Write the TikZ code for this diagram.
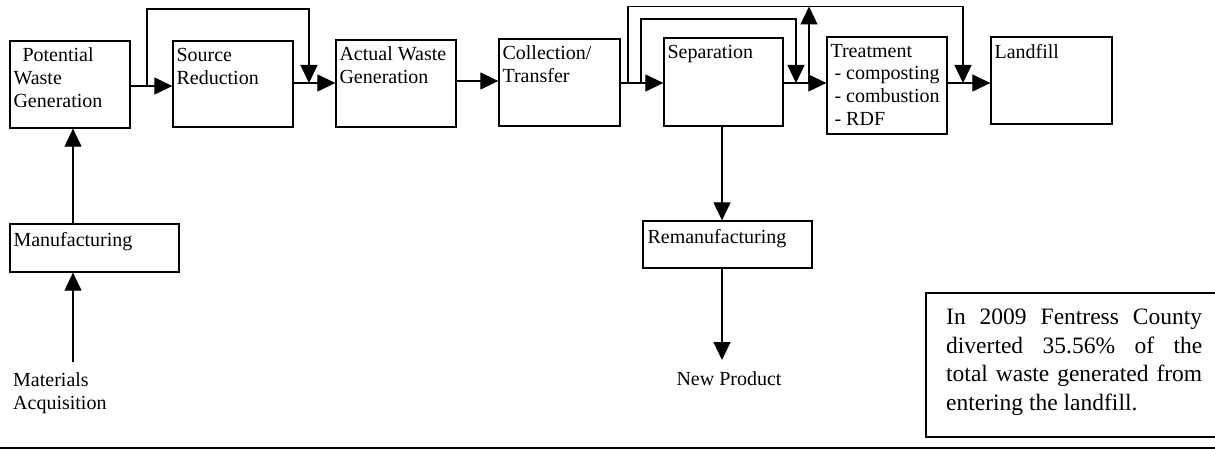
\documentclass[tikz,border=0pt]{standalone}
\usepackage{fontspec}
\setmainfont{Liberation Serif}
\usetikzlibrary{arrows.meta}
\begin{document}
\begin{tikzpicture}[x=1pt,y=-1pt,
  box/.style={draw,line width=1.3pt,inner sep=0pt},
  txt/.style={font=\fontsize{20}{23}\selectfont,align=left,inner xsep=4pt,inner ysep=7.5pt,anchor=north west},
  plain/.style={font=\fontsize{20}{23}\selectfont,align=left},
  arr/.style={line width=1.2pt,-{Triangle[length=18pt,width=17pt]}},
  notetxt/.style={font=\fontsize{23.5}{28.7}\selectfont,text width=256pt,align=justify,inner sep=0pt,anchor=north west}]
\useasboundingbox (0,0) rectangle (1215,449);
\clip (0,0) rectangle (1215,449);
\fill[white] (0,0) rectangle (1215,449);
% boxes
\node[box,minimum width=120pt,minimum height=87pt] (pwg) at (70,84.5) {};
\node[txt] (pwgT) at (pwg.north west) {\hspace*{9pt}Potential\\Waste\\Generation};
\node[box,minimum width=120pt,minimum height=86pt] (sr) at (233,84) {};
\node[txt] (srT) at (sr.north west) {Source\\Reduction};
\node[box,minimum width=120pt,minimum height=87pt] (awg) at (396,83.5) {};
\node[txt] (awgT) at (awg.north west) {Actual Waste\\Generation};
\node[box,minimum width=121pt,minimum height=87pt] (ct) at (559.5,82.5) {};
\node[txt] (ctT) at (ct.north west) {Collection/\\Transfer};
\node[box,minimum width=119pt,minimum height=88pt] (sep) at (723.5,82) {};
\node[txt] (sepT) at (sep.north west) {Separation};
\node[box,minimum width=120pt,minimum height=97pt] (treat) at (887,85.5) {};
\node[txt,font=\fontsize{20}{22.7}\selectfont] (treatT) at (treat.north west) {Treatment\\\hspace*{4pt}- composting\\\hspace*{4pt}- combustion\\\hspace*{4pt}- RDF};
\node[box,minimum width=121pt,minimum height=87pt] (land) at (1051.5,80.5) {};
\node[txt] (landT) at (land.north west) {Landfill};
\node[box,minimum width=169pt,minimum height=48pt] (manu) at (94.5,248) {};
\node[txt,inner ysep=9pt] (manuT) at (manu.north west) {Manufacturing};
\node[box,minimum width=169pt,minimum height=47pt] (reman) at (727.5,244.5) {};
\node[txt,inner xsep=5pt,inner ysep=8.5pt] (remanT) at (reman.north west) {Remanufacturing};
% free texts
\node[plain,anchor=north west,inner xsep=4pt,inner ysep=10.3pt] (mat) at (9,362) {Materials\\Acquisition};
\node[plain,anchor=north,inner xsep=0pt,inner ysep=11.3pt] (newp) at (729,360) {New Product};
% note
\node[draw,line width=2pt,minimum width=304pt,minimum height=144pt,inner sep=0pt] (note) at (1078,365) {};
\node[notetxt] (noteT) at ([xshift=21pt,yshift=-16.5pt]note.north west) {In 2009 Fentress County\linebreak diverted 35.56\% of the\linebreak total waste generated from\linebreak entering the landfill.};
% bottom rule
\coordinate (r1) at (0,448);
\coordinate (r2) at (1215,448);
\draw[line width=2.5pt] (r1) -- (r2);
% main flow
\draw[arr] (pwg.east |- 0,86) -- (sr.west |- 0,86);
\draw[arr] (sr.east |- 0,83) -- (awg.west |- 0,83);
\draw[arr] (awg.east |- 0,81) -- (ct.west |- 0,81);
\draw[arr] (ct.east |- 0,83) -- (sep.west |- 0,83);
\draw[arr] (sep.east |- 0,83) -- (treat.west |- 0,83);
\draw[arr] (treat.east |- 0,83) -- (land.west |- 0,83);
% bypasses
\coordinate (j1) at (147,86);
\coordinate (k1) at (309,83);
\draw[arr] (j1) -- (147,9) -| (k1);
\coordinate (j2) at (628,83);
\coordinate (k2) at (963,83);
\draw[arr] (j2) -- (628,6.5) -| (k2);
\coordinate (j3) at (641,83);
\coordinate (k3) at (796,83);
\draw[arr] (j3) -- (641,19) -| (k3);
\coordinate (j4) at (809,83);
\coordinate (k4) at (809,6.5);
\draw[arr] (j4) -- (k4);
% verticals
\draw[arr] (sep.south -| 722,0) -- (reman.north -| 722,0);
\draw[arr] (reman.south -| 722,0) -- (newp.north -| 722,0);
\draw[arr] (manu.north -| 73,0) -- (pwg.south -| 73,0);
\draw[arr] (mat.north -| 73,0) -- (manu.south -| 73,0);
\end{tikzpicture}
\end{document}
